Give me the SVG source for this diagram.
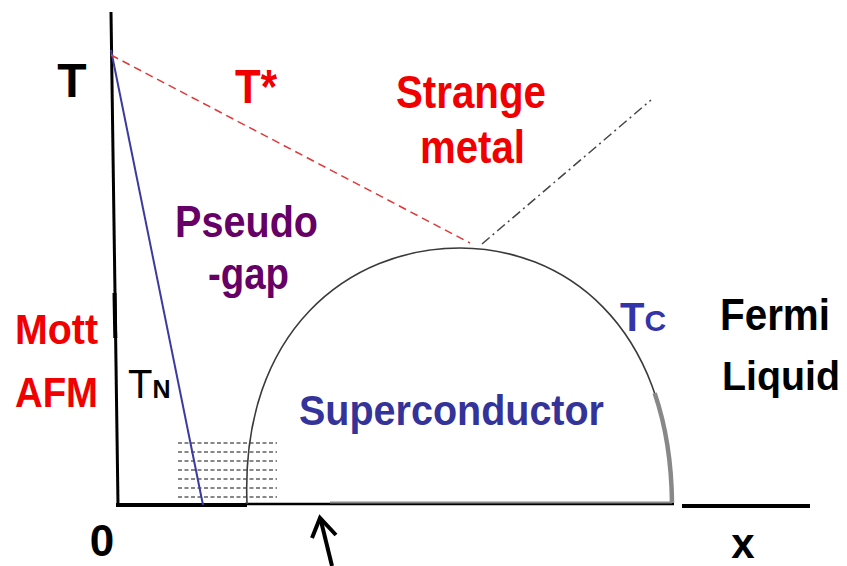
<svg xmlns="http://www.w3.org/2000/svg" width="847" height="566" viewBox="0 0 847 566">
<style>
.lbl{font-family:"Liberation Sans",Arial,sans-serif;font-weight:bold}
.red{fill:#f00000}
.blk{fill:#000}
.pur{fill:#660066}
.blu{fill:#333399}
.ax{stroke:#000;fill:none;stroke-linecap:butt}
.hd{stroke:#111;stroke-width:1.2;stroke-dasharray:4 2.5}
</style>
<rect width="847" height="566" fill="#fff"/>
<g id="axes">
<line class="ax" x1="111" y1="12" x2="118" y2="505" stroke-width="3"/>
<line class="ax" x1="114.5" y1="293" x2="115.3" y2="338" stroke-width="4"/>
<line class="ax" x1="116" y1="505" x2="247" y2="505" stroke-width="4"/>
<line class="ax" x1="245" y1="504" x2="674" y2="504" stroke-width="2.5"/>
<line x1="330" y1="502.5" x2="672" y2="502.5" stroke="#888" stroke-width="2"/>
<line class="ax" x1="682" y1="506" x2="810" y2="506" stroke-width="4"/>
</g>
<g id="hatch">
<line class="hd" x1="178" y1="443" x2="277" y2="443"/>
<line class="hd" x1="178" y1="452" x2="277" y2="452"/>
<line class="hd" x1="178" y1="461" x2="277" y2="461"/>
<line class="hd" x1="178" y1="470" x2="277" y2="470"/>
<line class="hd" x1="178" y1="479" x2="277" y2="479"/>
<line class="hd" x1="178" y1="488" x2="277" y2="488"/>
<line class="hd" x1="178" y1="497" x2="277" y2="497"/>
</g>
<g id="connectors">
<path id="dome" d="M247,504 C240,330 350,248 460,248 C560,248 670,320 672,503" fill="none" stroke="#3a3a3a" stroke-width="1.6"/>
<path d="M460,248 C560,248 670,320 672,503" pathLength="100" fill="none" stroke="#888" stroke-width="4.5" stroke-dasharray="0 70 100"/>
<line id="tn" x1="111" y1="50" x2="203" y2="505" stroke="#3a3aa0" stroke-width="2"/>
<line id="tstar" x1="111" y1="55" x2="470" y2="243" stroke="#e03838" stroke-width="1.5" stroke-dasharray="8 5"/>
<line id="crossover" x1="482" y1="244" x2="651" y2="100" stroke="#444" stroke-width="1.5" stroke-dasharray="10 4 2 4"/>
<g id="arrow" stroke="#000" stroke-width="4" fill="none" stroke-linejoin="miter">
<line x1="332" y1="566" x2="321" y2="521"/>
<polyline points="312,538 320,518 336,535"/>
</g>
</g>
<g id="labels">
<text class="lbl blk" x="72" y="97" font-size="48" text-anchor="middle">T</text>
<text class="lbl blk" x="102" y="556" font-size="44" text-anchor="middle">0</text>
<text class="lbl blk" x="743" y="558" font-size="42" text-anchor="middle">x</text>
<text class="lbl red" x="235" y="103" font-size="48" textLength="42" lengthAdjust="spacingAndGlyphs">T*</text>
<text class="lbl red" x="396" y="108" font-size="46" textLength="150" lengthAdjust="spacingAndGlyphs">Strange</text>
<text class="lbl red" x="420" y="163" font-size="46" textLength="105" lengthAdjust="spacingAndGlyphs">metal</text>
<text class="lbl pur" x="175" y="237" font-size="44" textLength="143" lengthAdjust="spacingAndGlyphs">Pseudo</text>
<text class="lbl pur" x="208" y="289" font-size="44" textLength="81" lengthAdjust="spacingAndGlyphs">-gap</text>
<text class="lbl red" x="15" y="344" font-size="43" textLength="83" lengthAdjust="spacingAndGlyphs">Mott</text>
<text class="lbl red" x="15" y="407" font-size="43" textLength="83" lengthAdjust="spacingAndGlyphs">AFM</text>
<text x="128" y="398" font-family="'Liberation Sans',Arial,sans-serif" font-size="40" fill="#000">T<tspan font-weight="bold" font-size="25">N</tspan></text>
<text class="lbl blu" x="299" y="425" font-size="42" textLength="305" lengthAdjust="spacingAndGlyphs">Superconductor</text>
<text class="lbl" x="620" y="331" font-size="40" fill="#3333aa">T<tspan font-size="30">C</tspan></text>
<text class="lbl blk" x="720" y="330" font-size="44" textLength="110" lengthAdjust="spacingAndGlyphs">Fermi</text>
<text class="lbl blk" x="722" y="390" font-size="40" textLength="118" lengthAdjust="spacingAndGlyphs">Liquid</text>
</g>
</svg>
